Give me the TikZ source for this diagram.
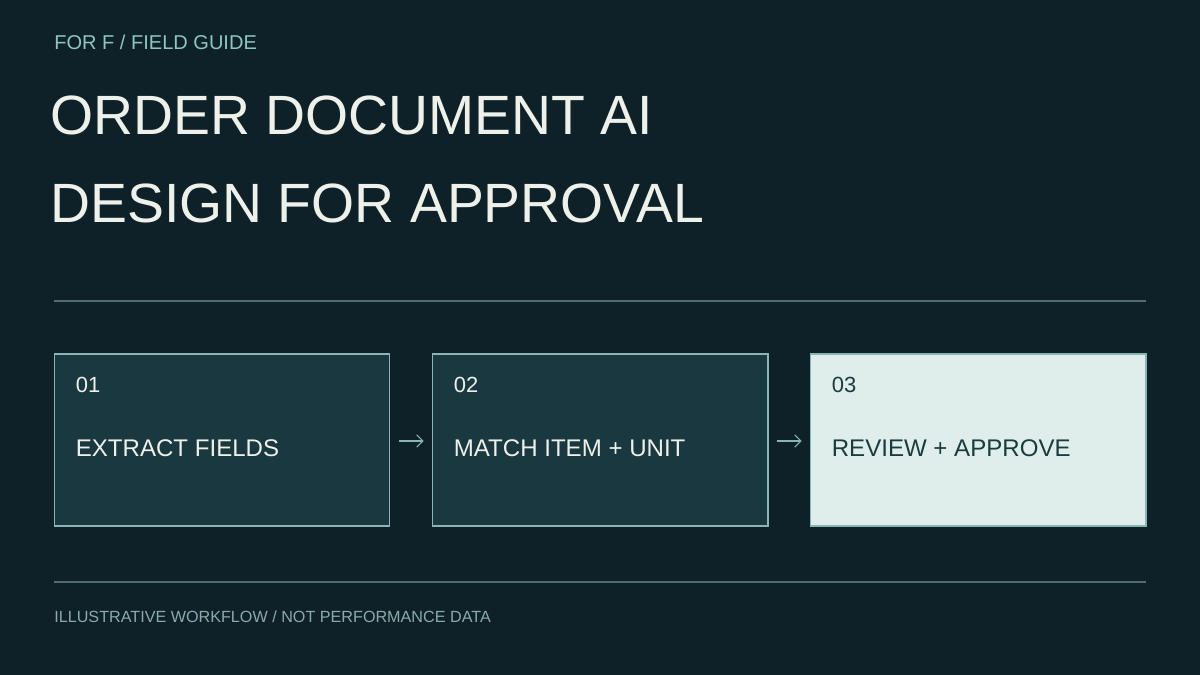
\documentclass[tikz,border=0pt]{standalone}
\usepackage{fontspec}
\setmainfont{Liberation Sans}
\usetikzlibrary{arrows.meta,positioning}
\definecolor{bgdark}{HTML}{0F2128}
\definecolor{boxdark}{HTML}{1A383F}
\definecolor{boxedge}{HTML}{8AB5B5}
\definecolor{boxlight}{HTML}{DFEEEA}
\definecolor{titlecol}{HTML}{EEF0EA}
\definecolor{kickcol}{HTML}{8EC5C0}
\definecolor{rulecol}{HTML}{4D6D72}
\definecolor{footcol}{HTML}{8AAAA8}
\definecolor{inkdark}{HTML}{1A3C40}
\tikzset{
  >={Straight Barb[length=3.5pt,width=7pt]},
  stepbox/.style={draw=boxedge,fill=boxdark,line width=0.6pt,minimum width=6.72cm,minimum height=3.44cm,inner sep=0pt},
  lightbox/.style={stepbox,fill=boxlight},
  numtext/.style={anchor=base west,inner sep=0pt,font=\fontsize{12.5}{14}\selectfont},
  labeltext/.style={anchor=base west,inner sep=0pt,font=\fontsize{13.7}{16}\selectfont},
  flow/.style={->,boxedge,line width=0.6pt,shorten <=5pt,shorten >=4.5pt},
}
\tikzstyle{rule}=[rulecol,line width=0.6pt]
\begin{document}
\begin{tikzpicture}[x=0.02cm,y=-0.02cm]
  \fill[bgdark] (0,0) rectangle (1200,675);
  \useasboundingbox (0,0) rectangle (1200,675);
  % header
  \node[anchor=base west,inner sep=0pt,kickcol,font=\fontsize{11.4}{13}\selectfont] (kicker) at (54,50) {FOR F / FIELD GUIDE};
  \node[anchor=base west,inner sep=0pt,titlecol,font=\fontsize{31.5}{36}\selectfont] (title1) at (50,135) {ORDER DOCUMENT AI};
  \node[anchor=base west,inner sep=0pt,titlecol,font=\fontsize{31.5}{36}\selectfont] (title2) at (50,223) {DESIGN FOR APPROVAL};
  \draw[rule] (54,301) -- (1146,301);
  % steps
  \node[stepbox] (extract) at (222,440) {};
  \node[stepbox] (match) at (600,440) {};
  \node[lightbox] (review) at (978,440) {};
  \node[numtext,titlecol] (n1) at ([xshift=0.44cm,yshift=-0.78cm]extract.north west) {01};
  \node[labeltext,titlecol] (l1) at ([xshift=0.44cm,yshift=-2.06cm]extract.north west) {EXTRACT FIELDS};
  \node[numtext,titlecol] (n2) at ([xshift=0.44cm,yshift=-0.78cm]match.north west) {02};
  \node[labeltext,titlecol] (l2) at ([xshift=0.44cm,yshift=-2.06cm]match.north west) {MATCH ITEM + UNIT};
  \node[numtext,inkdark] (n3) at ([xshift=0.44cm,yshift=-0.78cm]review.north west) {03};
  \node[labeltext,inkdark] (l3) at ([xshift=0.44cm,yshift=-2.06cm]review.north west) {REVIEW + APPROVE};
  \draw[flow] ([yshift=-0.02cm]extract.east) -- ([yshift=-0.02cm]match.west);
  \draw[flow] ([yshift=-0.02cm]match.east) -- ([yshift=-0.02cm]review.west);
  % footer
  \draw[rule] (54,582) -- (1146,582);
  \node[anchor=base west,inner sep=0pt,footcol,font=\fontsize{9.2}{11}\selectfont] (foot) at (54,622) {ILLUSTRATIVE WORKFLOW / NOT PERFORMANCE DATA};
\end{tikzpicture}
\end{document}
